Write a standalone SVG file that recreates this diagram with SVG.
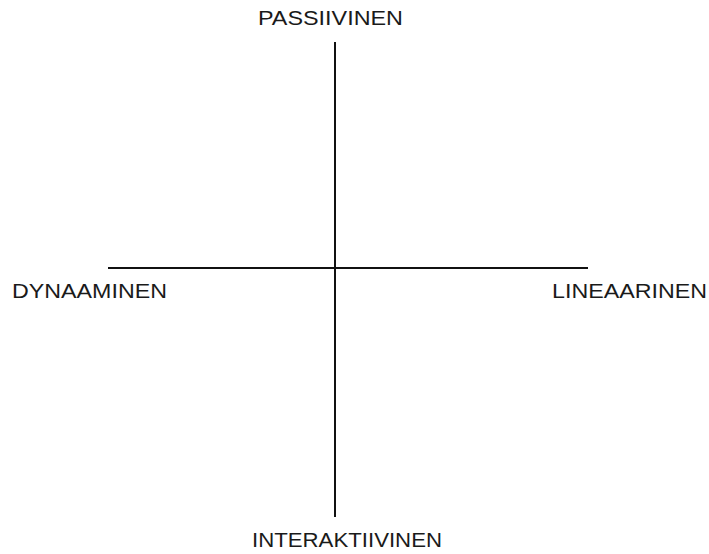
<svg xmlns="http://www.w3.org/2000/svg" width="709" height="554" viewBox="0 0 709 554">
<style>
.lbl{font-family:"Liberation Sans",Arial,sans-serif;font-size:20px;fill:#1a1a1a}
.ax{stroke:#111;stroke-width:2;fill:none}
</style>
<rect width="709" height="554" fill="#fff"/>
<g id="connectors">
<line class="ax" x1="335" y1="42" x2="335" y2="517"/>
<line class="ax" x1="108" y1="268" x2="588" y2="268"/>
</g>
<g id="passiivinen"><text class="lbl" x="258" y="25" textLength="145" lengthAdjust="spacingAndGlyphs">PASSIIVINEN</text></g>
<g id="dynaaminen"><text class="lbl" x="12" y="298" textLength="155" lengthAdjust="spacingAndGlyphs">DYNAAMINEN</text></g>
<g id="lineaarinen"><text class="lbl" x="552" y="298" textLength="155" lengthAdjust="spacingAndGlyphs">LINEAARINEN</text></g>
<g id="interaktiivinen"><text class="lbl" x="252" y="547" textLength="190" lengthAdjust="spacingAndGlyphs">INTERAKTIIVINEN</text></g>
</svg>
